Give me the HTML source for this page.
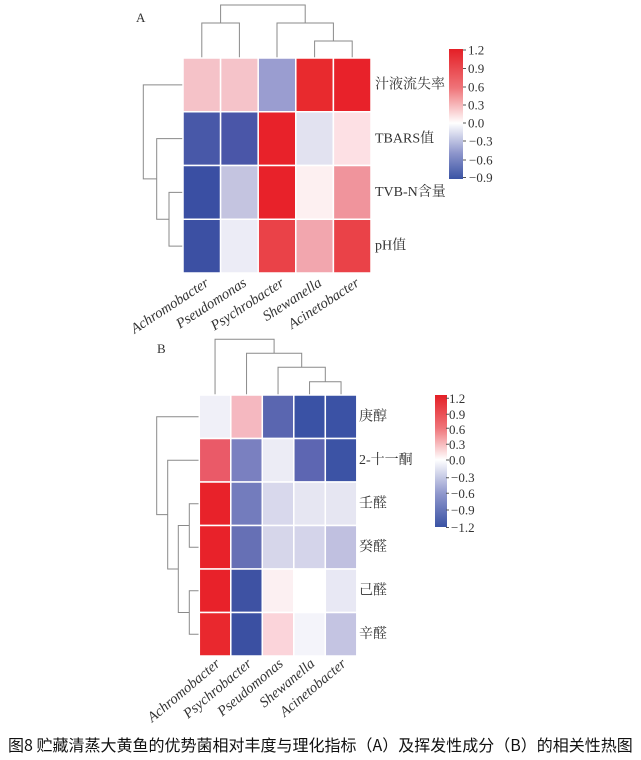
<!DOCTYPE html>
<html><head><meta charset="utf-8"><style>
html,body{margin:0;padding:0;background:#fff;}
svg{display:block;}
.t{font-family:"Liberation Serif","Noto Serif CJK SC",serif;fill:#333;}
.it{font-family:"Liberation Serif",serif;font-style:italic;fill:#333;font-size:14.5px;}
.d{stroke:#8a8a8a;stroke-width:1;fill:none;}
.c{stroke:#fff;stroke-width:1.5;}
</style></head><body>
<svg width="641" height="760" viewBox="0 0 641 760" xmlns="http://www.w3.org/2000/svg">
<defs>
<linearGradient id="gA" x1="0" y1="0" x2="0" y2="1">
<stop offset="0" stop-color="#e41f26"/><stop offset="0.3" stop-color="#ef7479"/><stop offset="0.57" stop-color="#ffffff"/><stop offset="0.8" stop-color="#8e96cc"/><stop offset="1" stop-color="#3a53a4"/>
</linearGradient>
<linearGradient id="gB" x1="0" y1="0" x2="0" y2="1">
<stop offset="0" stop-color="#e41f26"/><stop offset="0.25" stop-color="#ef7479"/><stop offset="0.49" stop-color="#ffffff"/><stop offset="0.75" stop-color="#8e96cc"/><stop offset="1" stop-color="#3a53a4"/>
</linearGradient>
</defs>

<!-- Panel A -->
<text class="t" x="136" y="22" font-size="13">A</text>
<!-- top dendrogram A -->
<path class="d" d="M201.8 58V23H239.4V58 M314.6 58V41H352.2V58 M277 58V23H333.4V41 M220.6 23V5H305.2V23"/>
<!-- left dendrogram A -->
<path class="d" d="M183 192.4H169V246.1H183 M183 138.6H156.7V219.25H169 M183 84.9H143.3V178.9H156.7"/>
<!-- cells A -->
<g class="c">
<rect x="183" y="58" width="37.6" height="53.75" fill="#f5c2c8"/>
<rect x="220.6" y="58" width="37.6" height="53.75" fill="#f5c3c9"/>
<rect x="258.2" y="58" width="37.6" height="53.75" fill="#9a9dd0"/>
<rect x="295.8" y="58" width="37.6" height="53.75" fill="#e82a2e"/>
<rect x="333.4" y="58" width="37.6" height="53.75" fill="#e8222a"/>

<rect x="183" y="111.75" width="37.6" height="53.75" fill="#4858a8"/>
<rect x="220.6" y="111.75" width="37.6" height="53.75" fill="#4a56a8"/>
<rect x="258.2" y="111.75" width="37.6" height="53.75" fill="#e8222a"/>
<rect x="295.8" y="111.75" width="37.6" height="53.75" fill="#e2e2f0"/>
<rect x="333.4" y="111.75" width="37.6" height="53.75" fill="#fde0e4"/>

<rect x="183" y="165.5" width="37.6" height="53.75" fill="#3a4fa3"/>
<rect x="220.6" y="165.5" width="37.6" height="53.75" fill="#c4c4e0"/>
<rect x="258.2" y="165.5" width="37.6" height="53.75" fill="#e8222a"/>
<rect x="295.8" y="165.5" width="37.6" height="53.75" fill="#fdf0f1"/>
<rect x="333.4" y="165.5" width="37.6" height="53.75" fill="#f0949c"/>

<rect x="183" y="219.25" width="37.6" height="53.75" fill="#3c50a3"/>
<rect x="220.6" y="219.25" width="37.6" height="53.75" fill="#ececf6"/>
<rect x="258.2" y="219.25" width="37.6" height="53.75" fill="#ea4248"/>
<rect x="295.8" y="219.25" width="37.6" height="53.75" fill="#f2a6ae"/>
<rect x="333.4" y="219.25" width="37.6" height="53.75" fill="#ea4248"/>
</g>
<!-- row labels A -->
<g class="t" font-size="14" dominant-baseline="central">
<text x="375" y="85">汁液流失率</text>
<text x="375" y="139">TBARS值</text>
<text x="375" y="192.5">TVB-N含量</text>
<text x="375" y="246">pH值</text>
</g>
<!-- col labels A -->
<g class="it" text-anchor="end">
<text transform="translate(209.8,285) rotate(-33)">Achromobacter</text>
<text transform="translate(247.4,285) rotate(-33)">Pseudomonas</text>
<text transform="translate(285,285) rotate(-33)">Psychrobacter</text>
<text transform="translate(322.6,285) rotate(-33)">Shewanella</text>
<text transform="translate(360.2,285) rotate(-33)">Acinetobacter</text>
</g>
<!-- colorbar A -->
<rect x="449" y="49" width="14" height="130" fill="url(#gA)"/>
<path stroke="#555" stroke-width="1" d="M463 50H466 M463 68.5H466 M463 87H466 M463 105H466 M463 123H466 M463 141H466 M463 160H466 M463 177.5H466"/>
<g class="t" font-size="13" dominant-baseline="central">
<text x="468" y="50">1.2</text>
<text x="468" y="68.5">0.9</text>
<text x="468" y="87">0.6</text>
<text x="468" y="105">0.3</text>
<text x="468" y="123">0.0</text>
<text x="469" y="141">−0.3</text>
<text x="469" y="160">−0.6</text>
<text x="469" y="177.5">−0.9</text>
</g>

<!-- Panel B -->
<text class="t" x="157" y="353" font-size="13">B</text>
<!-- top dendrogram B -->
<path class="d" d="M309.55 395V381.7H341.05V395 M278.05 395V367.3H325.3V381.7 M246.55 395V353.3H301.7V367.3 M215.05 395V339.3H274.1V353.3"/>
<!-- left dendrogram B -->
<path class="d" d="M199.3 503.75H189.3V547.25H199.3 M199.3 590.75H189.3V634.25H199.3 M189.3 525.5H178.3V612.5H189.3 M199.3 460.25H167.7V569H178.3 M199.3 416.75H156.7V514.6H167.7"/>
<!-- cells B -->
<g class="c">
<rect x="199.3" y="395" width="31.5" height="43.5" fill="#f0f0f8"/>
<rect x="230.8" y="395" width="31.5" height="43.5" fill="#f5b8c0"/>
<rect x="262.3" y="395" width="31.5" height="43.5" fill="#5a66b0"/>
<rect x="293.8" y="395" width="31.5" height="43.5" fill="#3a52a5"/>
<rect x="325.3" y="395" width="31.5" height="43.5" fill="#3b52a5"/>

<rect x="199.3" y="438.5" width="31.5" height="43.5" fill="#ea5a68"/>
<rect x="230.8" y="438.5" width="31.5" height="43.5" fill="#7a80c0"/>
<rect x="262.3" y="438.5" width="31.5" height="43.5" fill="#ececf5"/>
<rect x="293.8" y="438.5" width="31.5" height="43.5" fill="#5d66b2"/>
<rect x="325.3" y="438.5" width="31.5" height="43.5" fill="#3c53a5"/>

<rect x="199.3" y="482" width="31.5" height="43.5" fill="#e8222a"/>
<rect x="230.8" y="482" width="31.5" height="43.5" fill="#737cbd"/>
<rect x="262.3" y="482" width="31.5" height="43.5" fill="#d8d8ec"/>
<rect x="293.8" y="482" width="31.5" height="43.5" fill="#e6e6f2"/>
<rect x="325.3" y="482" width="31.5" height="43.5" fill="#e6e6f2"/>

<rect x="199.3" y="525.5" width="31.5" height="43.5" fill="#e8222a"/>
<rect x="230.8" y="525.5" width="31.5" height="43.5" fill="#6670b5"/>
<rect x="262.3" y="525.5" width="31.5" height="43.5" fill="#d6d6ea"/>
<rect x="293.8" y="525.5" width="31.5" height="43.5" fill="#d4d4ea"/>
<rect x="325.3" y="525.5" width="31.5" height="43.5" fill="#c0c0e0"/>

<rect x="199.3" y="569" width="31.5" height="43.5" fill="#e8222a"/>
<rect x="230.8" y="569" width="31.5" height="43.5" fill="#3e52a3"/>
<rect x="262.3" y="569" width="31.5" height="43.5" fill="#fcf0f2"/>
<rect x="293.8" y="569" width="31.5" height="43.5" fill="#ffffff"/>
<rect x="325.3" y="569" width="31.5" height="43.5" fill="#e8e8f4"/>

<rect x="199.3" y="612.5" width="31.5" height="43.5" fill="#e9282e"/>
<rect x="230.8" y="612.5" width="31.5" height="43.5" fill="#3b50a2"/>
<rect x="262.3" y="612.5" width="31.5" height="43.5" fill="#fbd4da"/>
<rect x="293.8" y="612.5" width="31.5" height="43.5" fill="#f4f4fa"/>
<rect x="325.3" y="612.5" width="31.5" height="43.5" fill="#c4c4e2"/>
</g>
<!-- row labels B -->
<g class="t" font-size="14" dominant-baseline="central">
<text x="359" y="417">庚醇</text>
<text x="359" y="460.5">2-十一酮</text>
<text x="359" y="504">壬醛</text>
<text x="359" y="547.5">癸醛</text>
<text x="359" y="591">己醛</text>
<text x="359" y="634.5">辛醛</text>
</g>
<!-- col labels B -->
<g class="it" text-anchor="end">
<text transform="translate(221,665) rotate(-40)">Achromobacter</text>
<text transform="translate(252.5,665) rotate(-40)">Psychrobacter</text>
<text transform="translate(284,665) rotate(-40)">Pseudomonas</text>
<text transform="translate(315.5,665) rotate(-40)">Shewanella</text>
<text transform="translate(347,665) rotate(-40)">Acinetobacter</text>
</g>
<!-- colorbar B -->
<rect x="435" y="395" width="12" height="132" fill="url(#gB)"/>
<path stroke="#555" stroke-width="1" d="M446 398.3H449 M446 414.3H449 M446 428.3H449 M446 444.3H449 M446 460H449 M446 477.7H449 M446 493.3H449 M446 510H449 M446 527.5H449"/>
<g class="t" font-size="13" dominant-baseline="central">
<text x="449" y="398.3">1.2</text>
<text x="449" y="414.3">0.9</text>
<text x="449" y="429.3">0.6</text>
<text x="449" y="444.3">0.3</text>
<text x="449" y="460">0.0</text>
<text x="451" y="477.7">−0.3</text>
<text x="451" y="493.3">−0.6</text>
<text x="451" y="510">−0.9</text>
<text x="451" y="527.5">−1.2</text>
</g>

<!-- caption -->
<text x="8" y="751" font-size="16" fill="#111" style="font-family:'Noto Sans CJK SC','WenQuanYi Zen Hei',sans-serif;">图8 贮藏清蒸大黄鱼的优势菌相对丰度与理化指标（A）及挥发性成分（B）的相关性热图</text>
</svg>
</body></html>
